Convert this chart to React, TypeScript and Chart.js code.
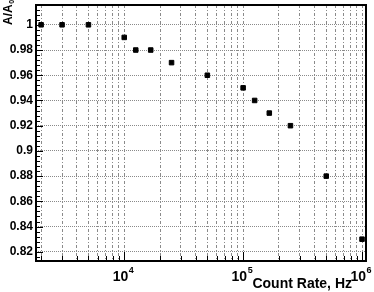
import React, { useEffect, useRef } from "react";
import { Chart, registerables } from "chart.js";

Chart.register(...registerables);

const countRates = [2000, 3000, 5000, 10000, 12500, 16700, 25000, 50000, 100000, 125000, 166000, 250000, 500000, 1000000];
const ratioValues = [1, 1, 1, 0.99, 0.98, 0.98, 0.97, 0.96, 0.95, 0.94, 0.93, 0.92, 0.88, 0.83];
const xGridTicks = [
  2000, 3000, 4000, 5000, 6000, 7000, 8000, 9000,
  10000, 20000, 30000, 40000, 50000, 60000, 70000, 80000, 90000,
  100000, 200000, 300000, 400000, 500000, 600000, 700000, 800000, 900000,
  1000000,
];
const xMajorLabels = [
  { value: 10000, exp: "4" },
  { value: 100000, exp: "5" },
  { value: 1000000, exp: "6" },
];
const yMin = 0.8127;
const yMax = 1.0157;
const xMin = 1811;
const xMax = 1080000;
const FONT = "'Liberation Sans', Arial, sans-serif";

const framePlugin = {
  id: "rootFrame",
  afterDraw(chart: any) {
    const { ctx, chartArea } = chart;
    const { left, right, top, bottom } = chartArea;
    const xs = chart.scales.x;
    const ys = chart.scales.y;
    ctx.save();
    ctx.strokeStyle = "#000";
    ctx.lineWidth = 1;
    for (let i = 0; i <= 60; i++) {
      const v = 0.812 + i * 0.004;
      if (v < yMin || v > yMax) continue;
      const py = Math.round(ys.getPixelForValue(v)) + 0.5;
      const major = Math.abs((v * 50) - Math.round(v * 50)) < 1e-6;
      ctx.beginPath();
      ctx.moveTo(left, py);
      ctx.lineTo(left + (major ? 7 : 4), py);
      ctx.stroke();
    }
    for (const v of xGridTicks) {
      const px = Math.round(xs.getPixelForValue(v)) + 0.5;
      const major = Math.abs(Math.log10(v) - Math.round(Math.log10(v))) < 1e-9;
      ctx.beginPath();
      ctx.moveTo(px, bottom);
      ctx.lineTo(px, bottom - (major ? 9 : 5));
      ctx.stroke();
    }
    ctx.lineWidth = 2;
    ctx.strokeRect(left, top, right - left, bottom - top);
    ctx.fillStyle = "#000";
    ctx.textBaseline = "alphabetic";
    for (const m of xMajorLabels) {
      const px = xs.getPixelForValue(m.value);
      ctx.font = `bold 14px ${FONT}`;
      ctx.textAlign = "right";
      ctx.fillText("10", px + 4, 281);
      ctx.font = `bold 9px ${FONT}`;
      ctx.textAlign = "left";
      ctx.fillText(m.exp, px + 4.5, 273);
    }
    ctx.font = `bold 14px ${FONT}`;
    ctx.textAlign = "right";
    ctx.fillText("Count Rate, Hz", 352, 288);
    ctx.save();
    ctx.translate(12, 25);
    ctx.rotate(-Math.PI / 2);
    ctx.font = `bold 12px ${FONT}`;
    ctx.textAlign = "left";
    ctx.fillText("A/A", 0, 0);
    const w = ctx.measureText("A/A").width;
    ctx.font = `bold 7px ${FONT}`;
    ctx.fillText("0", w + 0.5, 2);
    ctx.restore();
    ctx.restore();
  },
};

export default function App() {
  const ref = useRef<HTMLCanvasElement | null>(null);
  useEffect(() => {
    if (!ref.current) return;
    const chart = new Chart(ref.current, {
      type: "scatter",
      data: {
        datasets: [
          {
            data: countRates.map((x, i) => ({ x, y: ratioValues[i] })),
            pointStyle: "rect",
            pointRadius: 3.2,
            pointBackgroundColor: "#000",
            pointBorderColor: "#000",
            pointBorderWidth: 1,
            showLine: false,
          },
        ],
      },
      options: {
        animation: false,
        responsive: false,
        devicePixelRatio: 1,
        layout: { padding: { left: 0, top: 2, right: 8, bottom: 0 } },
        plugins: { legend: { display: false }, tooltip: { enabled: false }, title: { display: false } },
        scales: {
          x: {
            type: "logarithmic",
            min: xMin,
            max: xMax,
            afterBuildTicks(scale: any) {
              scale.ticks = xGridTicks.map((v) => ({ value: v }));
            },
            afterFit(scale: any) {
              scale.height = 31;
              scale.paddingLeft = 0;
              scale.paddingRight = 0;
            },
            ticks: { display: false },
            grid: { color: "#8a8a8a", lineWidth: 1, drawTicks: false },
            border: { display: false, dash: [3, 2, 1, 2] },
          },
          y: {
            type: "linear",
            min: yMin,
            max: yMax,
            afterFit(scale: any) {
              scale.width = 36;
              scale.paddingTop = 0;
              scale.paddingBottom = 0;
            },
            ticks: {
              stepSize: 0.02,
              includeBounds: false,
              padding: 3,
              color: "#000",
              font: { family: FONT, size: 12, weight: "bold" },
              callback: (v: any) => String(+Number(v).toFixed(2)),
            },
            grid: { color: "#8a8a8a", lineWidth: 1, drawTicks: false },
            border: { display: false, dash: [1, 1] },
          },
        },
      },
      plugins: [framePlugin],
    });
    return () => chart.destroy();
  }, []);
  return (
    <div style={{ position: "fixed", left: 0, top: 0, width: 374, height: 292, background: "#fff" }}>
      <canvas ref={ref} width={374} height={292} style={{ display: "block" }} />
    </div>
  );
}
